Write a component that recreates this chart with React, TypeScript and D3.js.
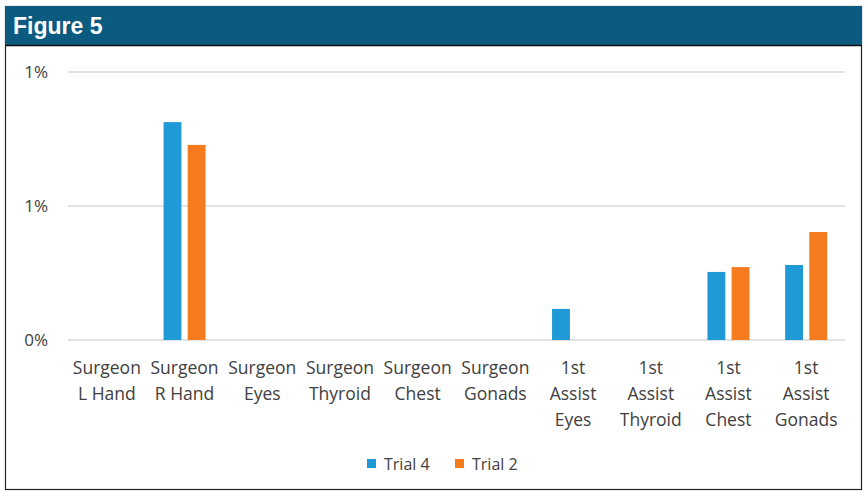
import React, { useEffect, useRef } from 'react';
import * as d3 from 'd3';

const categories = [
  ['Surgeon', 'L Hand'],
  ['Surgeon', 'R Hand'],
  ['Surgeon', 'Eyes'],
  ['Surgeon', 'Thyroid'],
  ['Surgeon', 'Chest'],
  ['Surgeon', 'Gonads'],
  ['1st', 'Assist', 'Eyes'],
  ['1st', 'Assist', 'Thyroid'],
  ['1st', 'Assist', 'Chest'],
  ['1st', 'Assist', 'Gonads'],
];
const seriesNames = ['Trial 4', 'Trial 2'];
const trial4 = [0, 0.00813, 0, 0, 0, 0, 0.00116, 0, 0.00254, 0.0028];
const trial2 = [0, 0.00728, 0, 0, 0, 0, 0, 0, 0.00272, 0.00403];
const tickValues = [0, 0.005, 0.01];
const tickLabels = ['0%', '1%', '1%'];
const colors = ['#1f9ad6', '#f67b1f'];

const W = 867;
const H = 492;
const FONT = '"Open Sans", Lato, sans-serif';

export default function App() {
  const svgRef = useRef<SVGSVGElement>(null);

  useEffect(() => {
    const svg = d3.select(svgRef.current);
    svg.selectAll('*').remove();

    // frame + header
    svg.append('rect')
      .attr('x', 5.5).attr('y', 6.5).attr('width', 856).attr('height', 483)
      .attr('fill', '#fff').attr('stroke', '#222').attr('stroke-width', 1.2);
    svg.append('rect')
      .attr('x', 5).attr('y', 6).attr('width', 857).attr('height', 39)
      .attr('fill', '#0b5a80');
    svg.append('line')
      .attr('x1', 5).attr('x2', 862).attr('y1', 45.5).attr('y2', 45.5)
      .attr('stroke', '#111').attr('stroke-width', 1.5);
    svg.append('text')
      .attr('x', 13).attr('y', 34)
      .attr('fill', '#fff')
      .style('font-family', 'Arial, "Liberation Sans", sans-serif')
      .style('font-weight', 'bold')
      .style('font-size', '23px')
      .text('Figure 5');

    const x = d3.scaleBand<number>()
      .domain(d3.range(categories.length))
      .range([68, 845]);
    const y = d3.scaleLinear().domain([0, 0.01]).range([340, 72]);
    const inner = d3.scaleBand<number>()
      .domain(d3.range(seriesNames.length))
      .range([-21, 21])
      .paddingInner(0.26);

    // gridlines + y labels
    const yAxis = svg.append('g')
    tickValues.forEach((v, i) => {
      yAxis.append('line')
        .attr('x1', 68).attr('x2', 845)
        .attr('y1', y(v)).attr('y2', y(v))
        .attr('stroke', '#d9d9d9').attr('stroke-width', 1.5);
      yAxis.append('text')
        .attr('x', 48).attr('y', y(v) + 6)
        .attr('text-anchor', 'end')
        .attr('fill', '#404040')
        .style('font-family', FONT).style('font-size', '17px')
        .text(tickLabels[i]);
    });

    // bars
    const series = [trial4, trial2];
    series.forEach((vals, s) => {
      svg.append('g')
        .selectAll('rect')
        .data(vals.map((v, i) => ({ v, i })).filter(d => d.v > 0))
        .join('rect')
          .attr('x', d => x(d.i)! + x.bandwidth() / 2 + inner(s)!)
          .attr('y', d => y(d.v))
          .attr('width', inner.bandwidth())
          .attr('height', d => y(0) - y(d.v))
          .attr('fill', colors[s]);
    });

    // category labels
    const labels = svg.append('g')
      .style('font-family', FONT).style('font-size', '17.5px')
      .attr('fill', '#404040');
    categories.forEach((lines, i) => {
      const t = labels.append('text')
        .attr('text-anchor', 'middle');
      lines.forEach((ln, j) => {
        t.append('tspan')
          .attr('x', x(i)! + x.bandwidth() / 2)
          .attr('y', 374 + j * 26)
          .text(ln);
      });
    });

    // legend
    const legend = svg.append('g')
      .style('font-family', FONT).style('font-size', '16px');
    const legendX = [367, 455];
    seriesNames.forEach((name, s) => {
      legend.append('rect')
        .attr('x', legendX[s]).attr('y', 459)
        .attr('width', 9).attr('height', 9)
        .attr('fill', colors[s]);
      legend.append('text')
        .attr('x', legendX[s] + 17).attr('y', 470)
        .attr('fill', '#404040')
        .text(name);
    });
  }, []);

  return (
    <svg
      ref={svgRef}
      width={W}
      height={H}
      style={{ position: 'absolute', left: 0, top: 0, background: '#fff' }}
    />
  );
}
